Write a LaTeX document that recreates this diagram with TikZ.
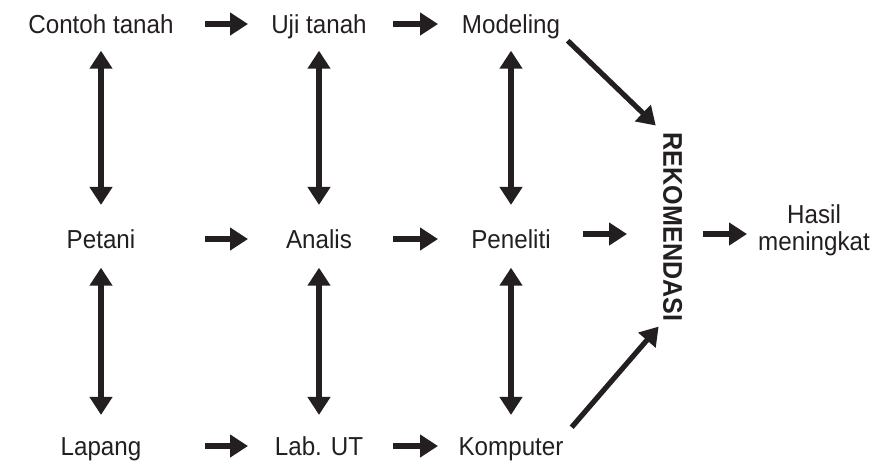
\documentclass[tikz,border=0pt]{standalone}
\usepackage{fontspec}
\setmainfont{Liberation Sans}[FakeStretch=0.93]
\usetikzlibrary{arrows.meta}

\definecolor{ink}{HTML}{231F20}

\begin{document}
\begin{tikzpicture}[
	lbl/.style={font=\fontsize{13}{11}\selectfont, text=ink, inner sep=0pt, text height=9.3pt, text depth=0pt},
	arr/.style={draw=ink, line width=2.6pt, -{Triangle[length=9pt,width=11pt]}},
	darr/.style={draw=ink, line width=2.6pt, {Triangle[length=9pt,width=11pt]}-{Triangle[length=9pt,width=11pt]}}
]

\def\px{0.5pt}

\begin{scope}[x=\px,y=-\px]
\useasboundingbox (0,0) rectangle (882,463);

% rows of the scheme
\node[lbl] (contoh) at (101,24) {Contoh tanah};
\node[lbl] (uji) at (319,24) {Uji tanah};
\node[lbl] (model) at (511,24) {Modeling};
\node[lbl] (petani) at (101,239) {Petani};
\node[lbl] (analis) at (319,239) {Analis};
\node[lbl] (peneliti) at (511,239) {Peneliti};
\node[lbl] (lapang) at (101,446) {Lapang};
\node[lbl] (lab) at (319,446) {Lab. UT};
\node[lbl] (komp) at (511,446) {Komputer};

\node[lbl, font=\fontsize{13.5}{11}\selectfont\bfseries, text height=9.65pt, rotate=-90] (reko) at (673,227) {REKOMENDASI};
\node[font=\fontsize{13}{13.5}\selectfont, text=ink, inner sep=0pt, align=center] (hasil) at (814,230) {Hasil\\meningkat};

\foreach \a\b in{contoh/petani,uji/analis,model/peneliti}{
	\draw[darr, shorten <=8.5pt, shorten >=12.2pt] (\a.south) -- (\b.north);
}
\foreach \a\b in{petani/lapang,analis/lab,peneliti/komp}{
	\draw[darr, shorten <=9.5pt, shorten >=10.7pt] (\a.south) -- (\b.north);
}

\foreach \a\b in{contoh/uji,petani/analis,lapang/lab}{
	\draw[arr, shorten <=52pt, shorten >=35.5pt] (\a.center) -- (\b.center);
}
\foreach \a\b in{uji/model,analis/peneliti,lab/komp}{
	\draw[arr, shorten <=37pt, shorten >=36.5pt] (\a.center) -- (\b.center);
}

\draw[arr, shorten <=36pt, shorten >=23pt] ([yshift=2.5pt]peneliti.center) -- ([yshift=2.5pt]peneliti.center -| reko.center);
\draw[arr, shorten <=15pt, shorten >=33.5pt] ([yshift=-3.5pt]reko.center) -- ([yshift=-3.5pt]reko.center -| hasil.center);

\draw[arr, shorten <=5pt, shorten >=5pt] (model.south east) -- (reko.south west);
\draw[arr, shorten <=6pt, shorten >=3.3pt] (komp.north east) -- (reko.south east);
\end{scope}

\end{tikzpicture}
\end{document}
